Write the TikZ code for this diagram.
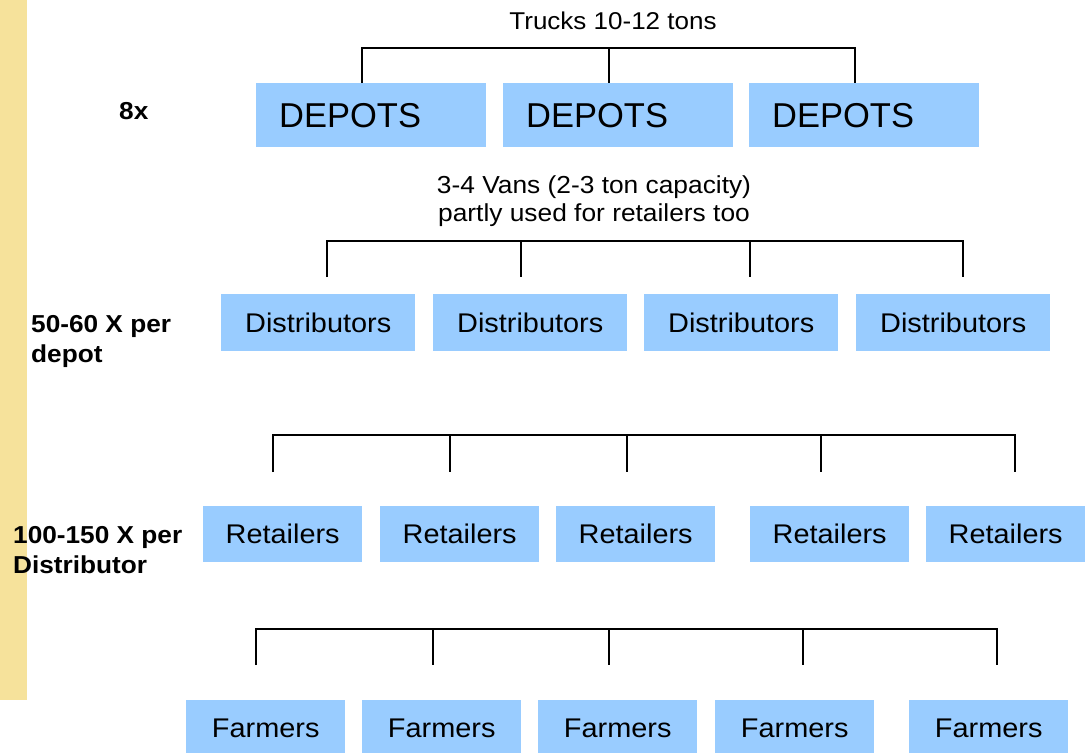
\documentclass[tikz,border=0pt]{standalone}
\usepackage{fontspec}
\setmainfont{Liberation Sans}
\newfontfamily\lab[FakeStretch=1.07]{Liberation Sans}
\newfontfamily\depfont{Liberation Sans}
\definecolor{boxblue}{RGB}{153,204,255}
\definecolor{stripcol}{RGB}{246,226,155}
\begin{document}
\begin{tikzpicture}[x=1pt,y=-1pt,
  box/.style={fill=boxblue,draw=none,inner sep=0pt,anchor=north west,
              font=\lab\fontsize{27}{31}\selectfont},
  depbox/.style={box,inner xsep=23pt,inner ysep=0pt,text width=184pt,align=left,
              minimum height=64pt,font=\depfont\fontsize{34.5}{40}\selectfont},
  distbox/.style={box,minimum width=194pt,minimum height=57pt},
  smallbox/.style={box,minimum width=159pt,minimum height=56pt},
  conn/.style={line width=2.2pt,line join=miter},
  lbl/.style={font=\lab\bfseries\fontsize{24.5}{30}\selectfont,inner sep=0pt,align=left},
  note/.style={inner sep=0pt,align=center}]
\useasboundingbox (0,0) rectangle (1091,752);
\clip (0,0) rectangle (1091,752);
\fill[white] (0,0) rectangle (1091,752);
% yellow strip
\fill[stripcol] (0,0) rectangle (27,700);

% labels left
\node[lbl,anchor=base west] (l8x) at (119,119) {8x};
\node[lbl,anchor=north west] (l50) at (31,315.5) {50-60 X per\\depot};
\node[lbl,anchor=north west] (l100) at (13,526.5) {100-150 X per\\Distributor};

% texts above brackets
\node[note,anchor=base,font=\lab\fontsize{24.3}{28}\selectfont] (trucks) at (613,30) {Trucks 10-12 tons};
\node[note,anchor=north,font=\lab\fontsize{24.6}{28}\selectfont] (vans) at (594,175)
  {3-4 Vans (2-3 ton capacity)\\partly used for retailers too};

% depots
\node[depbox] (d1) at (256,83) {DEPOTS};
\node[depbox] (d2) at (503,83) {DEPOTS};
\node[depbox] (d3) at (749,83) {DEPOTS};

% distributors
\node[distbox] (s1) at (221,294) {Distributors};
\node[distbox] (s2) at (433,294) {Distributors};
\node[distbox] (s3) at (644,294) {Distributors};
\node[distbox] (s4) at (856,294) {Distributors};

% retailers
\node[smallbox] (r1) at (203,506) {Retailers};
\node[smallbox] (r2) at (380,506) {Retailers};
\node[smallbox] (r3) at (556,506) {Retailers};
\node[smallbox] (r4) at (750,506) {Retailers};
\node[smallbox] (r5) at (926,506) {Retailers};

% farmers
\node[smallbox] (f1) at (186,700) {Farmers};
\node[smallbox] (f2) at (362,700) {Farmers};
\node[smallbox] (f3) at (538,700) {Farmers};
\node[smallbox] (f4) at (715,700) {Farmers};
\node[smallbox] (f5) at (909,700) {Farmers};

% bracket 1 (trucks -> depots)
\coordinate (t1) at (362,48);
\coordinate (t2) at (609,48);
\coordinate (t3) at (855,48);
\draw[conn] (t1 |- d1.north) -- (t1) -- (t3) -- (t3 |- d3.north);
\draw[conn] (t2) -- (t2 |- d2.north);

% bracket 2 (vans -> distributors)
\coordinate (u1) at (327,241);
\coordinate (u2) at (521,241);
\coordinate (u3) at (750,241);
\coordinate (u4) at (963,241);
\coordinate (ulow) at (0,277);
\draw[conn] (u1 |- ulow) -- (u1) -- (u4) -- (u4 |- ulow);
\draw[conn] (u2) -- (u2 |- ulow);
\draw[conn] (u3) -- (u3 |- ulow);

% bracket 3 (above retailers)
\coordinate (v1) at (273,435);
\coordinate (v2) at (450,435);
\coordinate (v3) at (627,435);
\coordinate (v4) at (821,435);
\coordinate (v5) at (1015,435);
\coordinate (vlow) at (0,472);
\draw[conn] (v1 |- vlow) -- (v1) -- (v5) -- (v5 |- vlow);
\draw[conn] (v2) -- (v2 |- vlow);
\draw[conn] (v3) -- (v3 |- vlow);
\draw[conn] (v4) -- (v4 |- vlow);

% bracket 4 (above farmers)
\coordinate (w1) at (256,629);
\coordinate (w2) at (433,629);
\coordinate (w3) at (609,629);
\coordinate (w4) at (803,629);
\coordinate (w5) at (997,629);
\coordinate (wlow) at (0,665);
\draw[conn] (w1 |- wlow) -- (w1) -- (w5) -- (w5 |- wlow);
\draw[conn] (w2) -- (w2 |- wlow);
\draw[conn] (w3) -- (w3 |- wlow);
\draw[conn] (w4) -- (w4 |- wlow);
\end{tikzpicture}
\end{document}
